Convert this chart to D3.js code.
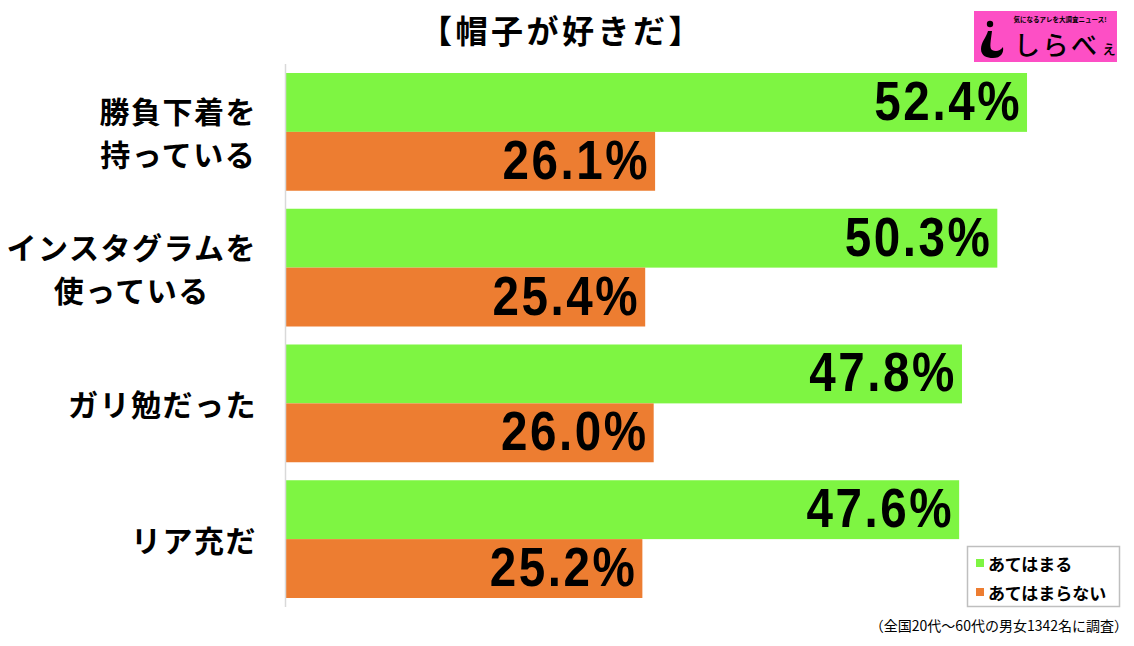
<!DOCTYPE html>
<html><head><meta charset="utf-8">
<script src="https://cdn.jsdelivr.net/npm/d3@7"></script>
<style>body{margin:0;background:#fff;}svg{display:block;}</style>
</head><body>
<svg id="chart" width="1134" height="646"></svg>
<script>
const title = "【帽子が好きだ】";
const categories = ["勝負下着を\n持っている", "インスタグラムを\n使っている", "ガリ勉だった", "リア充だ"];
const seriesNames = ["あてはまる", "あてはまらない"];
const seriesColors = ["#7ef542", "#ed7d31"];
const valuesYes = [52.4, 50.3, 47.8, 47.6];
const valuesNo = [26.1, 25.4, 26.0, 25.2];
const footnote = "（全国20代～60代の男女1342名に調査）";

(function () {
const svg = d3.select("#chart");
const plotLeft = 286, plotTop = 64, plotBottom = 607;
const x = d3.scaleLinear().domain([0, 60]).range([plotLeft, plotLeft + 848.5]);
const y = d3.scaleBand().domain(categories).range([plotTop, plotBottom]).paddingInner(0.1326).paddingOuter(0.0663);
const sub = d3.scaleBand().domain(seriesNames).range([0, y.bandwidth()]);
const jp = "'Noto Sans CJK JP', 'Noto Sans', sans-serif";

// title
svg.append("text").attr("x", 562).attr("y", 29).attr("text-anchor", "middle")
  .attr("dominant-baseline", "central").attr("font-family", jp).attr("font-weight", "bold")
  .attr("font-size", 32).attr("letter-spacing", "3.5px").attr("fill", "#000").text(title);

// bars
const rows = categories.map((c, i) => ({c, vals: [valuesYes[i], valuesNo[i]]}));
const g = svg.append("g");
rows.forEach(r => {
  r.vals.forEach((v, j) => {
    const yy = y(r.c) + sub(seriesNames[j]);
    g.append("rect").attr("x", x(0)).attr("y", yy).attr("width", x(v) - x(0))
      .attr("height", sub.bandwidth()).attr("fill", seriesColors[j]);
    g.append("g").attr("transform", `translate(${x(v) - 5},${yy + sub.bandwidth() / 2 + 17.5}) scale(0.85,1)`)
      .append("text").attr("x", 0).attr("y", 0)
      .attr("text-anchor", "end").attr("font-family", "'Liberation Sans', Arial, sans-serif")
      .attr("font-weight", "bold").attr("font-size", 56).attr("letter-spacing", "3px").attr("fill", "#000")
      .text(v.toFixed(1) + "%");
  });
});

// axis line
svg.append("line").attr("x1", x(0) - 0.5).attr("x2", x(0) - 0.5).attr("y1", plotTop).attr("y2", plotBottom)
  .attr("stroke", "#d9d9d9").attr("stroke-width", 1.5);

// category labels
categories.forEach(c => {
  const lines = c.split("\n");
  const cy = y(c) + y.bandwidth() / 2;
  const lg = svg.append("g");
  const texts = lines.map((ln, k) => lg.append("text")
    .attr("y", cy + (k - (lines.length - 1) / 2) * 43)
    .attr("dominant-baseline", "central").attr("text-anchor", "middle")
    .attr("font-family", jp).attr("font-weight", "bold").attr("font-size", 30)
    .attr("letter-spacing", "1.5px").attr("fill", "#000").text(ln));
  const maxW = d3.max(texts, t => t.node().getComputedTextLength());
  texts.forEach(t => t.attr("x", 257 - maxW / 2));
});

// legend
const lg = svg.append("g");
lg.append("rect").attr("x", 967.5).attr("y", 546.5).attr("width", 152).attr("height", 60)
  .attr("fill", "#fff").attr("stroke", "#bfbfbf").attr("stroke-width", 1.5);
seriesNames.forEach((s, i) => {
  const cy = 563 + i * 29;
  lg.append("rect").attr("x", 976).attr("y", cy - 4).attr("width", 8).attr("height", 8).attr("fill", seriesColors[i]);
  lg.append("text").attr("x", 988).attr("y", cy).attr("dominant-baseline", "central")
    .attr("font-family", jp).attr("font-weight", "bold").attr("font-size", 17).attr("fill", "#000").text(s);
});

// footnote
svg.append("text").attr("x", 1128).attr("y", 625).attr("text-anchor", "end").attr("dominant-baseline", "central")
  .attr("font-family", jp).attr("font-size", 14).attr("fill", "#000").text(footnote);

// logo
const logo = svg.append("g");
logo.append("rect").attr("x", 974).attr("y", 11).attr("width", 143).attr("height", 51).attr("fill", "#fd4fc5");
logo.append("circle").attr("cx", 990).attr("cy", 24).attr("r", 3.2).attr("fill", "#000");
logo.append("path").attr("d", "M988,31 C986,38 981,42 981,49 C981,56 987,58 993,58 C1001,58 1004,53 1003,47 C1000,51 996,52 992,50 C989,48 991,40 992,31 Z").attr("fill", "#000");
logo.append("text").attr("x", 1060).attr("y", 18.5).attr("text-anchor", "middle").attr("dominant-baseline", "central")
  .attr("font-family", jp).attr("font-weight", "bold").attr("font-size", 6.5).attr("fill", "#000").text("気になるアレを大調査ニュース!");
logo.append("text").attr("x", 1014).attr("y", 55).attr("font-family", jp).attr("font-weight", 500)
  .attr("font-size", 26).attr("letter-spacing", "2.5px").attr("fill", "#000").text("しらべ");
logo.append("text").attr("x", 1101).attr("y", 54).attr("font-family", jp).attr("font-weight", 500)
  .attr("font-size", 16).attr("fill", "#000").text("ぇ");
})();
</script>
</body></html>
